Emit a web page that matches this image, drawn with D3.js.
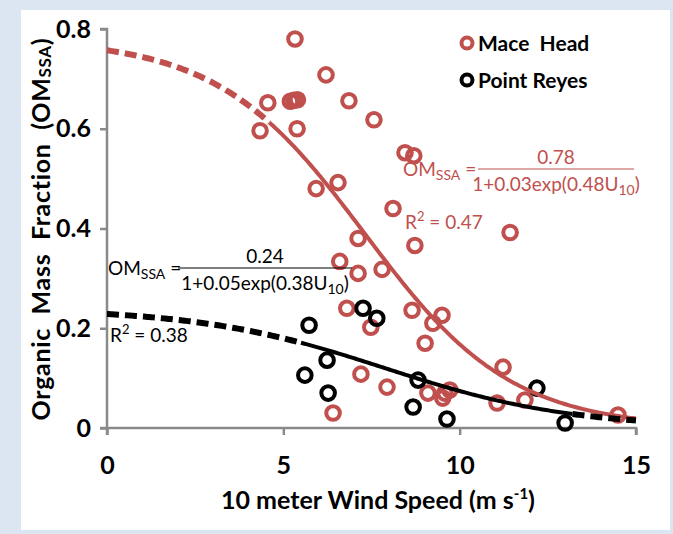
<html>
<head>
<style>
  body { margin: 0; background: #dce6f2; }
  svg { display: block; }
  text { white-space: pre; }
</style>
</head>
<body>
<script src="https://cdn.jsdelivr.net/npm/d3@7"></script>
<script>
// data
var maceX = [5.33, 6.21, 4.56, 5.2, 5.3, 5.4, 6.86, 4.34, 5.39, 7.57, 8.45, 8.7, 5.93, 6.55, 8.11, 8.73, 11.43,
             7.12, 6.6, 7.12, 7.8, 6.8, 7.48, 7.2, 7.94, 6.41, 8.65, 9.5, 9.24, 9.02, 11.23, 9.1, 9.58, 9.72,
             9.52, 11.06, 11.85, 14.49]
var maceY = [0.78, 0.708, 0.652, 0.655, 0.657, 0.658, 0.656, 0.596, 0.60, 0.618, 0.552, 0.546, 0.48, 0.492, 0.44, 0.366, 0.392,
             0.38, 0.334, 0.31, 0.318, 0.24, 0.202, 0.108, 0.082, 0.03, 0.236, 0.226, 0.21, 0.17, 0.122, 0.07, 0.07, 0.076,
             0.06, 0.05, 0.056, 0.026]
var reyesX = [5.73, 7.26, 7.65, 6.24, 5.61, 6.27, 8.82, 8.68, 9.64, 12.19, 12.99]
var reyesY = [0.206, 0.24, 0.22, 0.136, 0.106, 0.07, 0.096, 0.042, 0.018, 0.08, 0.01]

// fit: a / (1 + b*exp(c*U)), solid part between lo and hi
var maceFit = [0.78, 0.03, 0.48]
var reyesFit = [0.24, 0.05, 0.38]
var maceSolid = [4.6, 15]
var reyesSolid = [5.5, 13.2]

var xTicks = [0, 5, 10, 15]
var yTicks = [0, 0.2, 0.4, 0.6, 0.8]
var yTickLabels = ['0', '0.2', '0.4', '0.6', '0.8']

var red = '#c0504d'
var width = 673, height = 534
var font = 'Lato, "Open Sans", sans-serif'

var svg = d3.select('body').append('svg')
    .attr('width', width)
    .attr('height', height)

svg.append('rect')
    .attr('x', 21).attr('y', 10)
    .attr('width', 649).attr('height', 520)
    .attr('fill', 'white')

var x = d3.scaleLinear().domain([0, 15]).range([107, 636])
var y = d3.scaleLinear().domain([0, 0.8]).range([428, 29])

// axes
var xAxis = svg.append('g')
    .attr('transform', 'translate(0,' + y(0) + ')')
    .call(d3.axisBottom(x).tickValues(xTicks).tickSize(7).tickPadding(21).tickFormat(d3.format('d')))
var yAxis = svg.append('g')
    .attr('transform', 'translate(' + x(0) + ',0)')
    .call(d3.axisLeft(y).tickValues(yTicks).tickSize(7).tickPadding(9)
        .tickFormat(function(d, i){ return yTickLabels[i] }))

svg.selectAll('.domain, .tick line')
    .attr('stroke', '#8a8a8a')
    .attr('stroke-width', 2.5)
svg.selectAll('.tick text')
    .attr('fill', 'black')
    .attr('font-family', font)
    .attr('font-weight', 'bold')
    .attr('font-size', 25)
xAxis.select('.domain').attr('d', 'M' + x(0) + ',7V0H' + x(15) + 'V7')
yAxis.select('.domain').attr('d', 'M-7,' + y(0.8) + 'H0V' + y(0) + 'H-7')

// axis titles
var xt = svg.append('text')
    .attr('x', 378).attr('y', 509)
    .attr('text-anchor', 'middle')
    .attr('font-family', font).attr('font-weight', 'bold').attr('font-size', 25)
xt.append('tspan').text('10 meter Wind Speed (m s')
xt.append('tspan').text('-1').attr('font-size', 15).attr('dy', -10)
xt.append('tspan').text(')').attr('dy', 10)

var yt = svg.append('text')
    .attr('transform', 'translate(50,229) rotate(-90)')
    .attr('text-anchor', 'middle')
    .attr('font-family', font).attr('font-weight', 'bold').attr('font-size', 25)
    .attr('letter-spacing', 0.7)
yt.append('tspan').text('Organic  Mass  Fraction  (OM')
yt.append('tspan').text('SSA').attr('font-size', 17).attr('dy', 1)
yt.append('tspan').text(')').attr('dy', -1)

// points
function drawPoints(xs, ys, color) {
    svg.append('g').selectAll('circle')
        .data(xs)
        .enter()
        .append('circle')
        .attr('cx', function(d){ return x(d) })
        .attr('cy', function(d, i){ return y(ys[i]) })
        .attr('r', 6.8)
        .attr('fill', 'none')
        .attr('stroke', color)
        .attr('stroke-width', 4)
}
drawPoints(maceX, maceY, red)
drawPoints(reyesX, reyesY, 'black')

// fit curves
function fitLine(p, lo, hi) {
    var pts = d3.range(lo, hi + 0.001, 0.05).map(function(u){
        return [u, p[0] / (1 + p[1] * Math.exp(p[2] * u))]
    })
    return d3.line().x(function(d){ return x(d[0]) }).y(function(d){ return y(d[1]) })(pts)
}
function drawFit(p, solid, color) {
    svg.append('path').attr('d', fitLine(p, 0, solid[0]))
        .attr('fill', 'none').attr('stroke', color).attr('stroke-width', 6)
        .attr('stroke-dasharray', '12,6')
    svg.append('path').attr('d', fitLine(p, solid[0], solid[1]))
        .attr('fill', 'none').attr('stroke', color).attr('stroke-width', 4)
    if (solid[1] < 15) {
        svg.append('path').attr('d', fitLine(p, solid[1], 15))
            .attr('fill', 'none').attr('stroke', color).attr('stroke-width', 6)
            .attr('stroke-dasharray', '12,6')
    }
}
drawFit(maceFit, maceSolid, red)
drawFit(reyesFit, reyesSolid, 'black')

// equations
function equation(px, py, num, den, r2, color, barStart, barEnd) {
    var g = svg.append('g').attr('fill', color)
        .attr('font-family', font).attr('font-size', 19)
    var t = g.append('text').attr('x', px).attr('y', py + 7)
    t.append('tspan').text('OM')
    t.append('tspan').text('SSA').attr('font-size', 14).attr('dy', 4)
    t.append('tspan').text(' =').attr('dy', -4)
    g.append('line').attr('x1', barStart).attr('x2', barEnd)
        .attr('y1', py).attr('y2', py)
        .attr('stroke', color).attr('stroke-width', 1.2)
    g.append('text').attr('x', (barStart + barEnd) / 2).attr('y', py - 5)
        .attr('text-anchor', 'middle').text(num)
    var d = g.append('text').attr('x', (barStart + barEnd) / 2).attr('y', py + 22)
        .attr('text-anchor', 'middle')
    d.append('tspan').text(den)
    d.append('tspan').text('10').attr('font-size', 14).attr('dy', 4)
    d.append('tspan').text(')').attr('dy', -4)
    var r = g.append('text').attr('x', r2[0]).attr('y', r2[1])
    r.append('tspan').text('R')
    r.append('tspan').text('2').attr('font-size', 13).attr('dy', -8)
    r.append('tspan').text(' = ' + r2[2]).attr('dy', 8)
}
equation(403, 169, '0.78', '1+0.03exp(0.48U', [405, 229, '0.47'], red, 478, 634)
equation(108, 268, '0.24', '1+0.05exp(0.38U', [110, 342, '0.38'], 'black', 178, 352)

// legend
var legend = [['Mace  Head', red], ['Point Reyes', 'black']]
var lg = svg.append('g').selectAll('g')
    .data(legend)
    .enter()
    .append('g')
    .attr('transform', function(d, i){ return 'translate(467,' + (43 + i * 37) + ')' })
lg.append('circle').attr('r', 5.5).attr('fill', 'none')
    .attr('stroke', function(d){ return d[1] }).attr('stroke-width', 4)
lg.append('text').attr('x', 11).attr('y', 8)
    .attr('font-family', font).attr('font-weight', 'bold').attr('font-size', 21)
    .text(function(d){ return d[0] })
</script>
</body>
</html>
